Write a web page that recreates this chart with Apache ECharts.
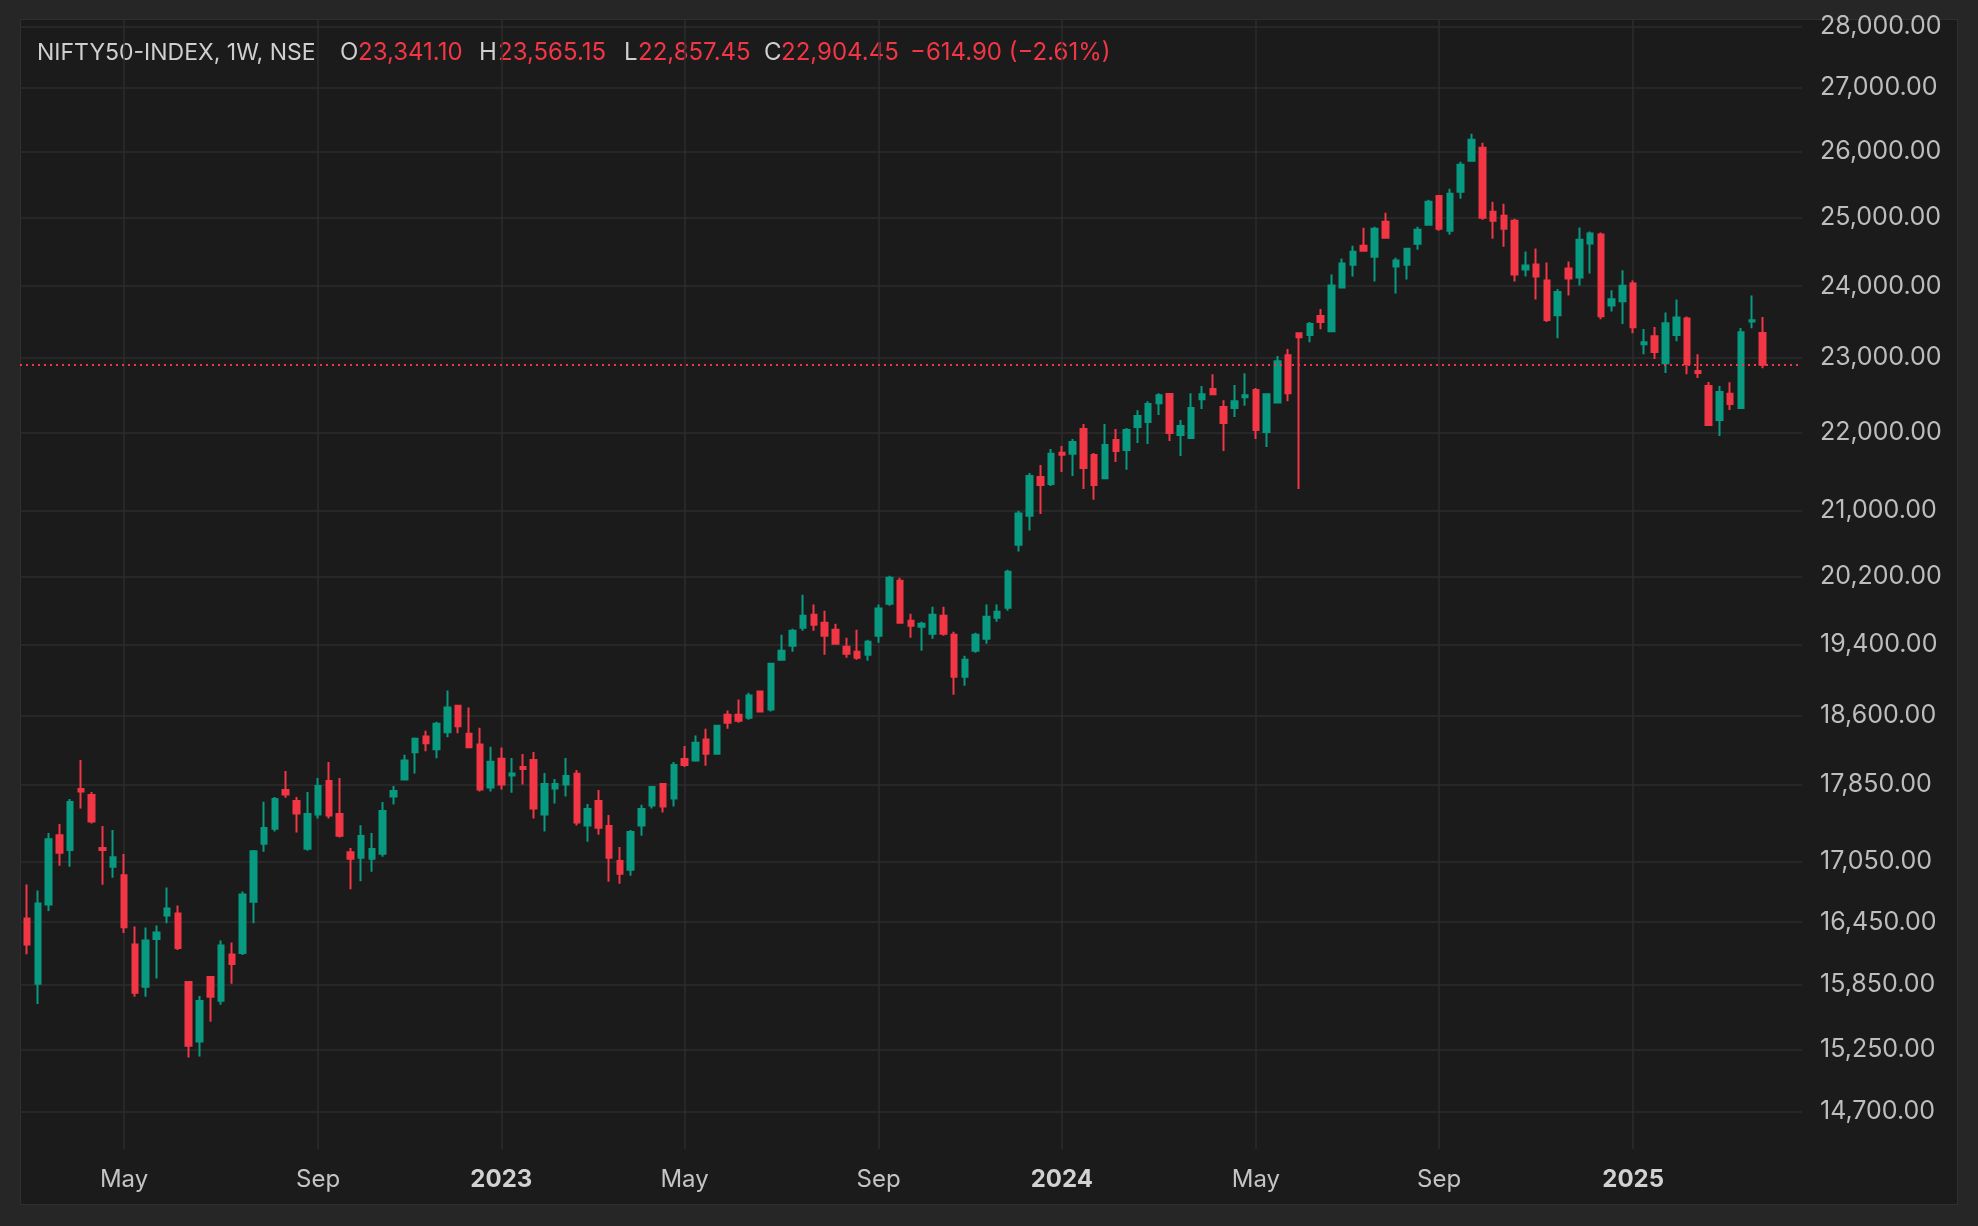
<!DOCTYPE html>
<html>
<head>
<meta charset="utf-8">
<title>NIFTY50-INDEX, 1W, NSE</title>
<script src="https://cdn.jsdelivr.net/npm/echarts@6.0.0/dist/echarts.min.js"></script>
<style>
  html, body { margin: 0; padding: 0; background: #262626; overflow: hidden; }
  #panel { position: absolute; left: 20px; top: 19px; width: 1936px; height: 1184px; background: #1b1b1b; border: 1px solid #303030; }
  #chart { position: absolute; left: 0; top: 0; width: 1978px; height: 1226px; }
</style>
</head>
<body>
<div id="panel"></div>
<div id="chart"></div>
<script>
var FONT = 'Inter, "Noto Sans", sans-serif';
var UP = '#089981';
var DOWN = '#f23645';

// weekly bars, first bar is the week of Monday 28 Feb 2022
var firstWeek = Date.UTC(2022, 1, 28);

var opens = [
    16486, 15859, 16624, 17322, 17169, 17804, 17741, 17189, 16999, 16915,
    16233, 15831, 16285, 16515, 16535, 15875, 15323, 15922, 15700, 16137,
    16150, 16650, 17233, 17389, 17794, 17678, 17182, 17535, 17889, 17541,
    17148, 17091, 17080, 17131, 17723, 17903, 18196, 18366, 18228, 18413,
    18707, 18398, 18279, 17818, 18127, 17946, 18038, 18113, 17535, 17808,
    17850, 17964, 17421, 17678, 17417, 17057, 16969, 17421, 17630, 17857,
    17702, 18124, 18106, 18334, 18181, 18607, 18607, 18574, 18864, 18663,
    19224, 19385, 19593, 19745, 19651, 19570, 19373, 19316, 19282, 19500,
    19875, 20148, 19675, 19605, 19523, 19733, 19512, 19031, 19327, 19465,
    19710, 19826, 20584, 20942, 21428, 21340, 21738, 21725, 22048, 21709,
    21412, 21904, 21775, 22074, 22140, 22389, 22510, 21970, 21930, 22442,
    22577, 22337, 22325, 22469, 22565, 22009, 22398, 23036, 23337, 23312,
    23578, 23367, 23981, 24306, 24583, 24424, 24936, 24280, 24306, 24613,
    24891, 25322, 24803, 25384, 25856, 26057, 25084, 25025, 24951, 24239,
    24310, 24081, 23590, 24253, 24124, 24616, 24746, 23727, 23784, 24038,
    23187, 23298, 22927, 23312, 23543, 22819, 22617, 22166, 22513, 22325,
    23503, 23341.10
];
var highs = [
    16822, 16762, 17343, 17436, 17699, 18113, 17772, 17417, 17374, 17128,
    16408, 16398, 16417, 16792, 16614, 15885, 15744, 15925, 16272, 16252,
    16752, 17169, 17668, 17720, 17995, 17720, 17772, 17921, 18092, 17921,
    17189, 17425, 17343, 17667, 17836, 18170, 18355, 18431, 18530, 18875,
    18718, 18685, 18464, 18257, 18247, 18135, 18178, 18200, 17974, 17910,
    18135, 18006, 17646, 17794, 17531, 17200, 17376, 17637, 17836, 17860,
    18092, 18265, 18377, 18453, 18497, 18652, 18774, 18852, 18875, 19190,
    19512, 19581, 19981, 19864, 19792, 19640, 19477, 19570, 19454, 19864,
    20208, 20184, 19757, 19663, 19839, 19839, 19547, 19270, 19535, 19864,
    19864, 20280, 21004, 21479, 21581, 21788, 21827, 21917, 22113, 21735,
    22113, 22048, 22061, 22296, 22415, 22522, 22525, 22166, 22522, 22618,
    22778, 22429, 22632, 22791, 22592, 22522, 23023, 23119, 23339, 23494,
    23676, 24167, 24399, 24583, 24847, 24862, 25069, 24410, 24554, 24862,
    25264, 25333, 25429, 25841, 26274, 26134, 25233, 25204, 24980, 24500,
    24543, 24340, 23958, 24354, 24851, 24791, 24776, 23943, 24229, 24081,
    23398, 23426, 23629, 23811, 23571, 23050, 22671, 22618, 22670, 23410,
    23868, 23565.15
];
var lows = [
    16140, 15669, 16558, 17010, 16999, 17597, 17441, 16819, 16889, 16343,
    15737, 15737, 15907, 16440, 16179, 15178, 15187, 15505, 15663, 15859,
    16132, 16440, 17152, 17359, 17712, 17348, 17161, 17493, 17493, 17297,
    16775, 16855, 16949, 17101, 17639, 17900, 17967, 18206, 18131, 18358,
    18402, 18245, 17776, 17776, 17797, 17765, 17850, 17493, 17359, 17650,
    17723, 17421, 17254, 17326, 16849, 16829, 16909, 17317, 17597, 17556,
    17619, 18038, 18095, 18052, 18170, 18453, 18519, 18552, 18635, 18641,
    19220, 19316, 19558, 19558, 19282, 19400, 19247, 19224, 19213, 19419,
    19851, 19648, 19477, 19327, 19465, 19500, 18828, 18930, 19304, 19408,
    19663, 19792, 20499, 20757, 20963, 21315, 21493, 21441, 21276, 21140,
    21405, 21620, 21519, 21865, 21852, 22231, 21892, 21697, 21920, 22311,
    22500, 21762, 22205, 22353, 21917, 21814, 22390, 22415, 21276, 23215,
    23395, 23353, 23975, 24138, 24494, 24067, 24686, 23896, 24095, 24525,
    24876, 24804, 24744, 25279, 25841, 24965, 24685, 24567, 24067, 24138,
    23811, 23494, 23270, 23868, 24010, 24181, 23534, 23642, 23465, 23339,
    23050, 22982, 22793, 23229, 22778, 22725, 22095, 21956, 22298, 22315,
    23406, 22857.45
];
var closes = [
    16233, 16633, 17281, 17141, 17667, 17776, 17462, 17169, 17097, 16401,
    15775, 16272, 16349, 16584, 16198, 15286, 15697, 15737, 16223, 16045,
    16723, 17158, 17396, 17699, 17744, 17545, 17541, 17836, 17524, 17317,
    17080, 17312, 17179, 17573, 17783, 18106, 18344, 18293, 18508, 18685,
    18479, 18250, 17797, 18095, 17850, 17967, 18016, 17597, 17857, 17857,
    17942, 17452, 17594, 17399, 17091, 16929, 17355, 17594, 17825, 17619,
    18060, 18060, 18300, 18181, 18486, 18519, 18541, 18819, 18641, 19178,
    19327, 19558, 19733, 19628, 19500, 19408, 19293, 19247, 19431, 19817,
    20184, 19652, 19616, 19640, 19745, 19523, 19031, 19224, 19512, 19721,
    19780, 20256, 20967, 21441, 21328, 21725, 21712, 21879, 21543, 21328,
    21840, 21762, 22035, 22217, 22376, 22495, 21996, 22087, 22325, 22508,
    22508, 22127, 22415, 22495, 22035, 22508, 22954, 22522, 23284, 23466,
    23494, 24010, 24326, 24494, 24509, 24833, 24700, 24367, 24539, 24818,
    25234, 24833, 25354, 25795, 26181, 24995, 24951, 24832, 24167, 24296,
    24138, 23523, 23917, 24109, 24672, 24761, 23576, 23813, 24004, 23420,
    23215, 23078, 23478, 23557, 22914, 22792, 22100, 22538, 22378, 23351,
    23519.35, 22904.45
];

// price scale labels (log scale)
var priceTicks = [14700, 15250, 15850, 16450, 17050, 17850, 18600, 19400, 20200,
                  21000, 22000, 23000, 24000, 25000, 26000, 27000, 28000];
var priceMin = 14376;
var priceMax = 28127;
var monthNames = { 4: 'May', 8: 'Sep' };

function fmt(n) {
    return n.toLocaleString('en-US', { minimumFractionDigits: 2, maximumFractionDigits: 2 });
}
function signed(n) {
    return (n < 0 ? '\u2212' : '+') + fmt(Math.abs(n));
}

var weeks = opens.map(function (o, i) {
    return new Date(firstWeek + i * 7 * 86400000);
});

// first bar of Jan / May / Sep gets a label and a grid line
var timeTicks = [];
weeks.forEach(function (d, i) {
    var m = d.getUTCMonth();
    if (d.getUTCDate() <= 7 && (m === 0 || m === 4 || m === 8)) timeTicks.push(i);
});

var candles = opens.map(function (o, i) {
    return [i, Math.log10(o), Math.log10(closes[i]), Math.log10(lows[i]), Math.log10(highs[i])];
});

var last = opens.length - 1;
var change = closes[last] - closes[last - 1];
var changePct = change / closes[last - 1] * 100;

var header = [
    { x: 37,  text: 'NIFTY50-INDEX, 1W, NSE', fill: '#cfcfcf', size: 23 },
    { x: 340, text: 'O', fill: '#cfcfcf', size: 24 },
    { x: 358, text: fmt(opens[last]), fill: DOWN, size: 24 },
    { x: 479, text: 'H', fill: '#cfcfcf', size: 24 },
    { x: 498, text: fmt(highs[last]), fill: DOWN, size: 24 },
    { x: 624, text: 'L', fill: '#cfcfcf', size: 24 },
    { x: 638, text: fmt(lows[last]), fill: DOWN, size: 24 },
    { x: 764, text: 'C', fill: '#cfcfcf', size: 24 },
    { x: 781, text: fmt(closes[last]), fill: DOWN, size: 24 },
    { x: 910, text: signed(change) + ' (' + signed(changePct) + '%)', fill: DOWN, size: 24 }
];

var chart = echarts.init(document.getElementById('chart'));

var option = {
    animation: false,
    backgroundColor: 'transparent',
    textStyle: { fontFamily: FONT },
    grid: { left: 20, right: 176, top: 19, bottom: 77, outerBoundsMode: 'none' },
    xAxis: {
        type: 'value',
        min: -0.65,
        max: 164.66,
        axisLine: { show: false },
        axisTick: { show: false, customValues: timeTicks },
        axisLabel: {
            customValues: timeTicks,
            margin: 19,
            color: '#c4c4c4',
            fontSize: 24,
            fontFamily: FONT,
            formatter: function (v) {
                var d = weeks[Math.round(v)];
                var m = d.getUTCMonth();
                return m === 0 ? '{yr|' + d.getUTCFullYear() + '}' : monthNames[m];
            },
            rich: {
                yr: { fontWeight: 'bold', color: '#d2d2d2', fontSize: 24, fontFamily: FONT }
            }
        },
        splitLine: { show: true, lineStyle: { color: '#2c2c2c', width: 1.5 } }
    },
    yAxis: {
        type: 'value',
        position: 'right',
        min: Math.log10(priceMin),
        max: Math.log10(priceMax),
        axisLine: { show: false },
        axisTick: { show: false, customValues: priceTicks.map(Math.log10) },
        axisLabel: {
            customValues: priceTicks.map(Math.log10),
            margin: 18,
            color: '#bdbdbd',
            fontSize: 25,
            fontFamily: FONT,
            formatter: function (v) {
                return fmt(Math.round(Math.pow(10, v)));
            }
        },
        splitLine: { show: true, lineStyle: { color: '#2c2c2c', width: 1.5 } }
    },
    graphic: header.map(function (h) {
        return {
            type: 'text',
            x: h.x,
            y: 53,
            silent: true,
            style: {
                text: h.text,
                fill: h.fill,
                fontSize: h.size,
                fontFamily: FONT,
                verticalAlign: 'middle'
            }
        };
    }),
    series: [{
        type: 'candlestick',
        data: candles,
        barWidth: 6,
        itemStyle: {
            color: UP,
            color0: DOWN,
            borderColor: UP,
            borderColor0: DOWN,
            borderWidth: 2
        },
        markLine: {
            silent: true,
            symbol: ['none', 'none'],
            label: { show: false },
            lineStyle: { color: DOWN, type: [2, 4], width: 2, opacity: 1 },
            data: [{ yAxis: Math.log10(closes[last]) }]
        }
    }]
};

chart.setOption(option);
</script>
</body>
</html>
